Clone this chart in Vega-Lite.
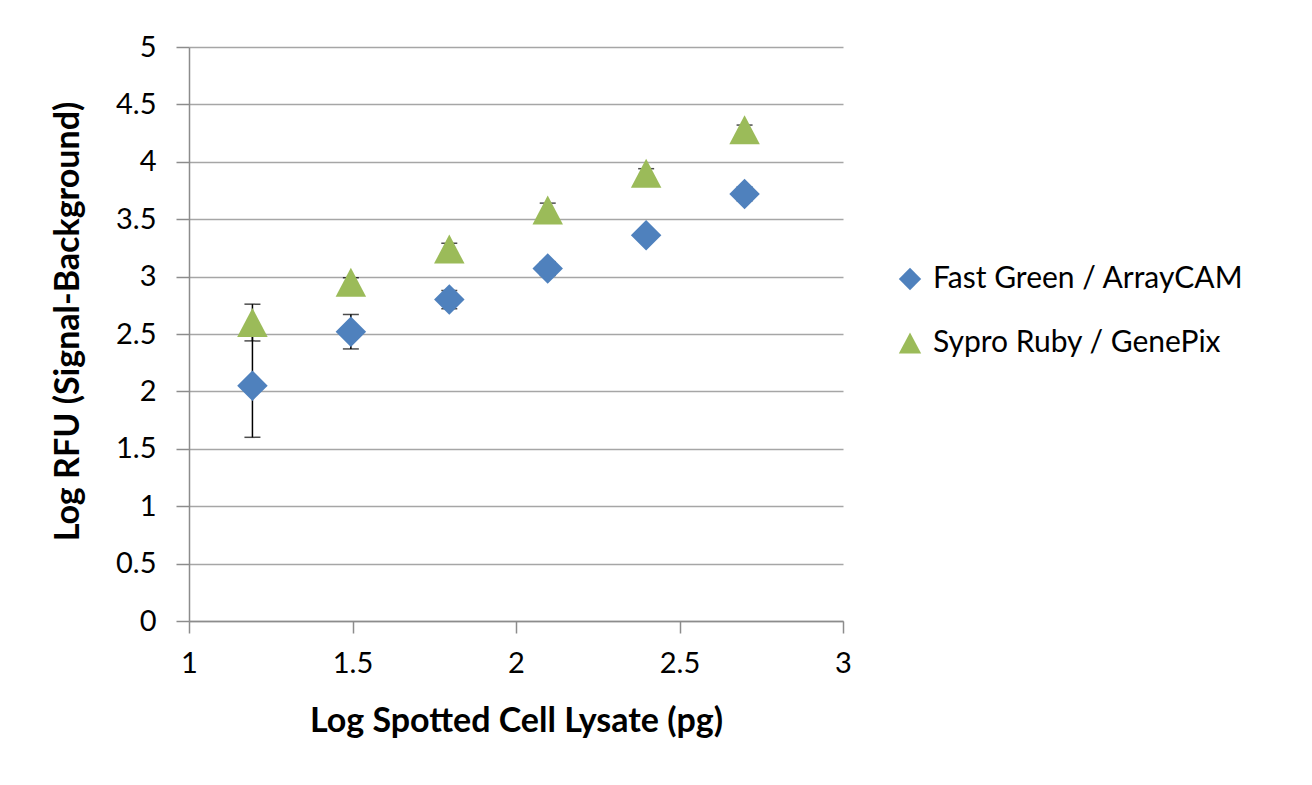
{
  "$schema": "https://vega.github.io/schema/vega-lite/v6.json",
  "autosize": "none",
  "width": 654,
  "height": 574,
  "padding": {"left": 189, "top": 47, "right": 469, "bottom": 164},
  "background": "white",
  "config": {
    "font": "Lato",
    "view": {"stroke": null},
    "axis": {
      "labelFont": "Lato",
      "titleFont": "Lato",
      "labelColor": "#000000",
      "titleColor": "#000000",
      "domainColor": "#8c8c8c",
      "domainWidth": 1.5,
      "tickColor": "#8c8c8c",
      "tickWidth": 1.5,
      "gridColor": "#a6a6a6",
      "gridWidth": 1.5
    }
  },
  "data": {
    "values": [
      {"series": "Fast Green / ArrayCAM", "x": 1.194, "y": 2.05, "lo": 1.60, "hi": 2.50},
      {"series": "Fast Green / ArrayCAM", "x": 1.495, "y": 2.52, "lo": 2.37, "hi": 2.67},
      {"series": "Fast Green / ArrayCAM", "x": 1.796, "y": 2.80, "lo": 2.72, "hi": 2.88},
      {"series": "Fast Green / ArrayCAM", "x": 2.097, "y": 3.07, "lo": 3.01, "hi": 3.13},
      {"series": "Fast Green / ArrayCAM", "x": 2.398, "y": 3.36, "lo": 3.33, "hi": 3.39},
      {"series": "Fast Green / ArrayCAM", "x": 2.699, "y": 3.72, "lo": 3.66, "hi": 3.78},
      {"series": "Sypro Ruby / GenePix", "x": 1.194, "y": 2.60, "lo": 2.44, "hi": 2.76},
      {"series": "Sypro Ruby / GenePix", "x": 1.495, "y": 2.95, "lo": 2.91, "hi": 2.99},
      {"series": "Sypro Ruby / GenePix", "x": 1.796, "y": 3.24, "lo": 3.19, "hi": 3.29},
      {"series": "Sypro Ruby / GenePix", "x": 2.097, "y": 3.58, "lo": 3.52, "hi": 3.64},
      {"series": "Sypro Ruby / GenePix", "x": 2.398, "y": 3.90, "lo": 3.86, "hi": 3.94},
      {"series": "Sypro Ruby / GenePix", "x": 2.699, "y": 4.28, "lo": 4.24, "hi": 4.32}
    ]
  },
  "layer": [
    {
      "mark": {"type": "errorbar", "ticks": {"size": 16, "color": "#000000", "thickness": 1.5}, "rule": {"color": "#000000", "strokeWidth": 1.5}},
      "encoding": {
        "x": {"field": "x", "type": "quantitative", "scale": {"domain": [1, 3], "nice": false, "zero": false}, "title": "Log Spotted Cell Lysate (pg)"},
        "y": {"field": "lo", "type": "quantitative", "scale": {"domain": [0, 5], "nice": false}, "title": "Log RFU (Signal-Background)"},
        "y2": {"field": "hi"}
      }
    },
    {
      "mark": {"type": "point", "filled": true, "opacity": 1, "size": 930},
      "encoding": {
        "x": {
          "field": "x", "type": "quantitative",
          "scale": {"domain": [1, 3], "nice": false, "zero": false},
          "title": "Log Spotted Cell Lysate (pg)",
          "axis": {
            "values": [1, 1.5, 2, 2.5, 3],
            "format": "~g",
            "grid": false,
            "tickSize": 12,
            "labelFontSize": 29,
            "labelPadding": 16,
            "labelFlush": false,
            "titleFontSize": 34,
            "titleFontWeight": "bold",
            "titlePadding": 26
          }
        },
        "y": {
          "field": "y", "type": "quantitative",
          "scale": {"domain": [0, 5], "nice": false},
          "title": "Log RFU (Signal-Background)",
          "axis": {
            "values": [0, 0.5, 1, 1.5, 2, 2.5, 3, 3.5, 4, 4.5, 5],
            "format": "~g",
            "grid": true,
            "tickSize": 13,
            "labelFontSize": 29,
            "labelPadding": 20,
            "labelFlush": false,
            "titleFontSize": 34,
            "titleFontWeight": "bold",
            "titlePadding": 30,
            "titleY": 274
          }
        },
        "color": {
          "field": "series", "type": "nominal",
          "scale": {"domain": ["Fast Green / ArrayCAM", "Sypro Ruby / GenePix"], "range": ["#4f81bd", "#9bbb59"]},
          "legend": {
            "title": null,
            "orient": "none",
            "legendX": 706,
            "legendY": 217,
            "labelFontSize": 30,
            "labelColor": "#000000",
            "labelFont": "Lato",
            "symbolSize": 500,
            "labelOffset": 8,
            "rowPadding": 34,
            "padding": 0,
            "labelLimit": 400
          }
        },
        "shape": {
          "field": "series", "type": "nominal",
          "scale": {"domain": ["Fast Green / ArrayCAM", "Sypro Ruby / GenePix"], "range": ["diamond", "M-1,0.95L1,0.95L0,-0.95Z"]}
        }
      }
    }
  ]
}
